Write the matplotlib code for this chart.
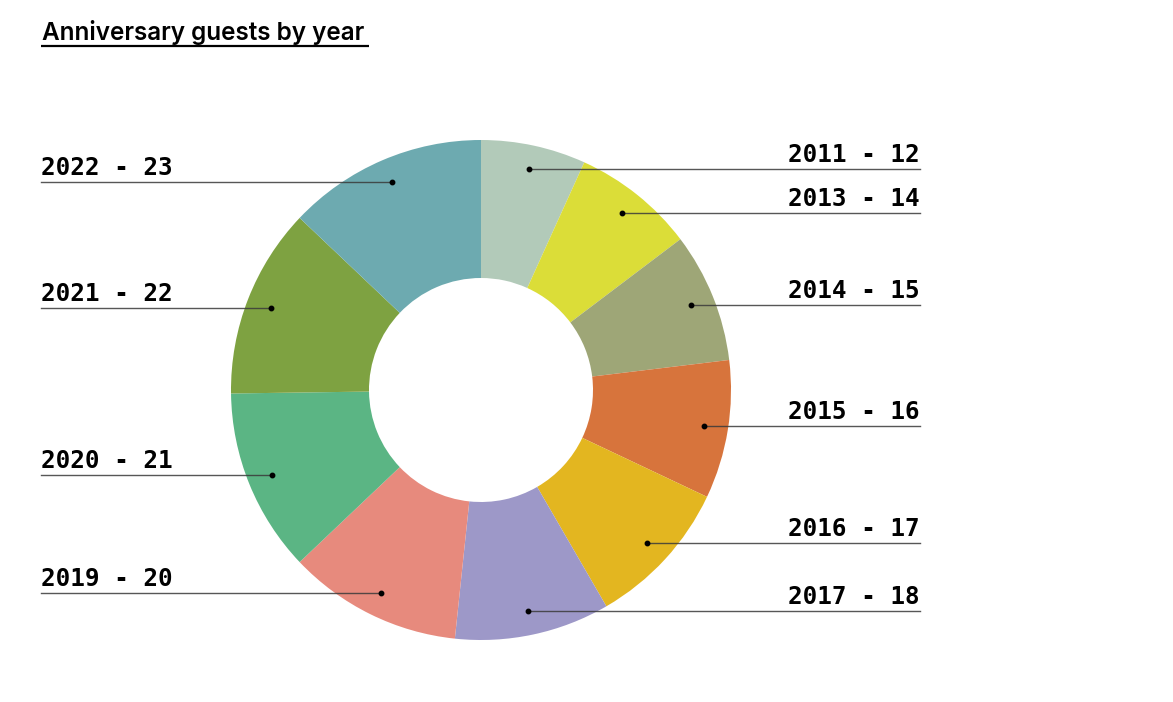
import numpy as np
import matplotlib.pyplot as plt

# guests per year
years = ["2011 - 12", "2013 - 14", "2014 - 15", "2015 - 16", "2016 - 17",
         "2017 - 18", "2019 - 20", "2020 - 21", "2021 - 22", "2022 - 23"]
guests = [24.4, 28.5, 30.2, 32.2, 34.6, 36.1, 40.5, 42.7, 44.3, 46.5]
colors = ["#b2cab9", "#dbdd38", "#9ea677", "#d7743c", "#e3b620",
          "#9d98c8", "#e78a7d", "#5bb584", "#7ea241", "#6daab0"]

W, H = 1173, 702
fig = plt.figure(figsize=(W / 100, H / 100), dpi=100)
ax = fig.add_axes([0, 0, 1, 1])

cx, cy = 481, H - 390
R, r_in = 250, 112
wedges, _ = ax.pie(guests, colors=colors, startangle=90, counterclock=False,
                   radius=R, center=(cx, cy),
                   wedgeprops=dict(width=R - r_in, linewidth=0))
ax.set_xlim(0, W)
ax.set_ylim(0, H)
ax.set_aspect("equal")
ax.axis("off")

mono = dict(family="DejaVu Sans Mono", fontweight="bold", fontsize=17.5)
for w, lab in zip(wedges, years):
    mid = np.deg2rad((w.theta1 + w.theta2) / 2)
    dx = cx + 226 * np.cos(mid)
    dy = cy + 226 * np.sin(mid)
    if np.cos(mid) >= 0:
        ax.plot([dx, 920], [dy, dy], color="#3a3a3a", lw=1.0, alpha=0.85)
        ax.text(920, dy + 2, lab, ha="right", va="bottom", color="black", **mono)
    else:
        ax.plot([41, dx], [dy, dy], color="#3a3a3a", lw=1.0, alpha=0.85)
        ax.text(41, dy + 2, lab, ha="left", va="bottom", color="black", **mono)
    ax.plot(dx, dy, "o", color="black", ms=3.2)

ax.text(42, H - 40, "Anniversary guests by year", ha="left", va="baseline",
        fontsize=17.5, fontweight="semibold", family="Inter", color="black")
ax.plot([41, 369], [H - 46, H - 46], color="black", lw=1.6, solid_capstyle="butt")

fig.savefig("out.png", dpi=100)
